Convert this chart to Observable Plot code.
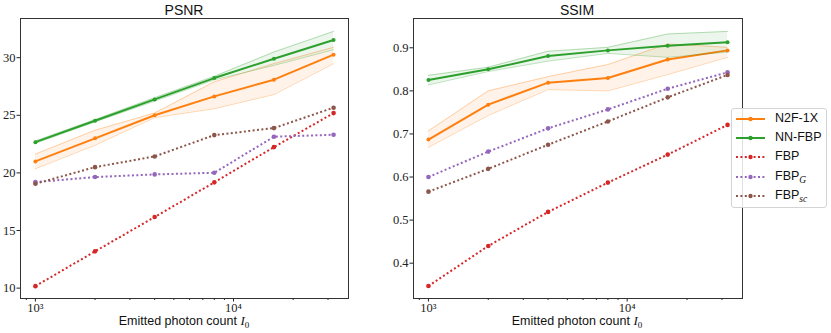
<!DOCTYPE html>
<html><head><meta charset="utf-8">
<script src="https://cdn.jsdelivr.net/npm/d3@7"></script>
<script src="https://cdn.jsdelivr.net/npm/@observablehq/plot@0.6"></script>
<style>
body{margin:0;background:#fff;width:831px;height:333px;position:relative;overflow:hidden;font-family:"Liberation Sans",sans-serif;}
.abs{position:absolute;}
#legend{left:731px;top:108px;width:94px;height:98px;border:1px solid #d4d4d4;border-radius:3px;background:rgba(255,255,255,0.85);}
.entry{position:absolute;left:0;height:14px;width:94px;}
.entry svg{position:absolute;left:4px;top:0;}
.entry .lbl{position:absolute;left:43px;top:-1px;font-size:12.5px;color:#111;white-space:nowrap;line-height:15px;}
.sub{font-family:"Liberation Serif",serif;font-style:italic;font-size:9.5px;position:relative;top:3px;}
</style></head><body>
<div id="left" class="abs" style="left:0;top:0"></div>
<div id="right" class="abs" style="left:380px;top:0"></div>
<svg class="abs" style="left:0;top:0" width="831" height="333" id="overlay"></svg>
<div id="legend" class="abs"></div>
<script>
// ---- data ----
const photons = [1000, 2000, 4000, 8000, 16000, 32000];
const seriesNames = ["N2F-1X", "NN-FBP", "FBP", "FBP_G", "FBP_sc"];

const psnrN2F   = [21.0, 23.0, 25.0, 26.64, 28.09, 30.26];
const psnrN2FLo = [20.36, 22.4, 24.8, 25.57, 26.8, 29.48];
const psnrN2FHi = [21.63, 23.7, 25.2, 27.9, 29.48, 30.9];
const psnrNN    = [22.67, 24.53, 26.38, 28.23, 29.91, 31.53];
const psnrNNLo  = [22.57, 24.43, 26.23, 28.08, 29.33, 30.69];
const psnrNNHi  = [22.77, 24.63, 26.53, 28.38, 30.49, 32.28];
const psnrFBP   = [10.17, 13.19, 16.17, 19.18, 22.24, 25.19];
const psnrFBPG  = [19.2, 19.64, 19.87, 20.01, 23.14, 23.31];
const psnrFBPsc = [19.06, 20.5, 21.43, 23.28, 23.89, 25.66];

const ssimN2F   = [0.687, 0.768, 0.819, 0.83, 0.873, 0.894];
const ssimN2FLo = [0.669, 0.743, 0.803, 0.8, 0.838, 0.878];
const ssimN2FHi = [0.707, 0.8, 0.833, 0.861, 0.909, 0.901];
const ssimNN    = [0.825, 0.85, 0.881, 0.894, 0.905, 0.913];
const ssimNNLo  = [0.814, 0.845, 0.869, 0.887, 0.878, 0.89];
const ssimNNHi  = [0.836, 0.855, 0.892, 0.901, 0.932, 0.938];
const ssimFBP   = [0.347, 0.44, 0.519, 0.587, 0.652, 0.721];
const ssimFBPG  = [0.6, 0.659, 0.713, 0.757, 0.805, 0.843];
const ssimFBPsc = [0.566, 0.619, 0.675, 0.729, 0.785, 0.837];

const psnrTicks = [10, 15, 20, 25, 30];
const ssimTicks = [0.4, 0.5, 0.6, 0.7, 0.8, 0.9];
const xMajor = [1000, 10000];
const xMajorLabels = ["10³", "10⁴"];
const xMinor = [900, 2000, 3000, 4000, 5000, 6000, 7000, 8000, 9000, 20000, 30000];

const C = {orange:"#ff7f0e", green:"#2ca02c", red:"#d62728", purple:"#9467bd", brown:"#8c564b"};
const DOT = "2,2.4";
const SERIF = "'Liberation Serif', 'DejaVu Serif', serif";

function panel(cfg){
  const rows = photons.map((x,i)=>({x,
    n2f:cfg.n2f[i], n2fLo:cfg.n2fLo[i], n2fHi:cfg.n2fHi[i],
    nn:cfg.nn[i], nnLo:cfg.nnLo[i], nnHi:cfg.nnHi[i],
    fbp:cfg.fbp[i], fbpg:cfg.fbpg[i], fbpsc:cfg.fbpsc[i]}));
  const band = (lo,hi,c)=>[
    Plot.areaY(rows,{x:"x",y1:lo,y2:hi,fill:c,fillOpacity:0.09}),
    Plot.lineY(rows,{x:"x",y:lo,stroke:c,strokeOpacity:0.4,strokeWidth:0.8}),
    Plot.lineY(rows,{x:"x",y:hi,stroke:c,strokeOpacity:0.4,strokeWidth:0.8})
  ];
  const solid = (k,c)=>[
    Plot.lineY(rows,{x:"x",y:k,stroke:c,strokeWidth:2}),
    Plot.dot(rows,{x:"x",y:k,fill:c,r:2})
  ];
  const dotted = (k,c)=>[
    Plot.lineY(rows,{x:"x",y:k,stroke:c,strokeWidth:2,strokeDasharray:DOT,strokeLinecap:"butt"}),
    Plot.dot(rows,{x:"x",y:k,fill:c,r:2.3})
  ];
  return Plot.plot({
    width:cfg.width, height:333,
    marginLeft:cfg.ml, marginRight:cfg.mr, marginTop:18, marginBottom:35,
    x:{type:"log", domain:[841, 38060]},
    y:{domain:cfg.ydom},
    style:{fontFamily:SERIF, fontSize:"12.5px", color:"#222", background:"transparent"},
    marks:[
      ...band("n2fLo","n2fHi",C.orange),
      ...solid("n2f",C.orange),
      ...band("nnLo","nnHi",C.green),
      ...solid("nn",C.green),
      ...dotted("fbp",C.red),
      ...dotted("fbpg",C.purple),
      ...dotted("fbpsc",C.brown),
      Plot.axisY({ticks:cfg.yticks, tickSize:3.5, tickPadding:1.5, label:null, tickFormat:cfg.fmt, fontFamily:SERIF, fontSize:12.5}),
      Plot.axisX({ticks:xMajor, tickSize:3.5, tickPadding:1, label:null, tickFormat:d=>xMajorLabels[xMajor.indexOf(d)], fontFamily:SERIF, fontSize:12.5}),
      Plot.axisX({ticks:xMinor, tickSize:2, label:null, tickFormat:()=>""}),
      Plot.frame({stroke:"#333", strokeWidth:1})
    ]
  });
}

document.getElementById("left").append(panel({
  width:360, ml:20, mr:12, ydom:[9.1, 33.4], yticks:psnrTicks, fmt:d=>String(d),
  n2f:psnrN2F, n2fLo:psnrN2FLo, n2fHi:psnrN2FHi, nn:psnrNN, nnLo:psnrNNLo, nnHi:psnrNNHi,
  fbp:psnrFBP, fbpg:psnrFBPG, fbpsc:psnrFBPsc
}));
document.getElementById("right").append(panel({
  width:370, ml:33, mr:8, ydom:[0.318, 0.968], yticks:ssimTicks, fmt:d3.format(".1f"),
  n2f:ssimN2F, n2fLo:ssimN2FLo, n2fHi:ssimN2FHi, nn:ssimNN, nnLo:ssimNNLo, nnHi:ssimNNHi,
  fbp:ssimFBP, fbpg:ssimFBPG, fbpsc:ssimFBPsc
}));

// titles and axis labels
const ov = d3.select("#overlay");
[["PSNR",184],["SSIM",577]].forEach(([t,x])=>{
  ov.append("text").attr("x",x).attr("y",15).attr("text-anchor","middle")
    .attr("font-family","'Liberation Sans', sans-serif").attr("font-size",14).attr("fill","#111").text(t);
});
[184,577].forEach(x=>{
  const t = ov.append("text").attr("x",x).attr("y",325).attr("text-anchor","middle")
    .attr("font-family","'Liberation Sans', sans-serif").attr("font-size",12.5).attr("fill","#111");
  t.append("tspan").text("Emitted photon count ");
  t.append("tspan").attr("font-family",SERIF).attr("font-style","italic").attr("font-size",13).text("I");
  t.append("tspan").attr("font-family",SERIF).attr("font-size",9).attr("dy",2.5).text("0");
});

// legend
const legendStyle = [
  {c:C.orange, dash:null},
  {c:C.green, dash:null},
  {c:C.red, dash:DOT},
  {c:C.purple, dash:DOT},
  {c:C.brown, dash:DOT}
];
const lg = d3.select("#legend");
seriesNames.forEach((name,i)=>{
  const e = lg.append("div").attr("class","entry").style("top",(2.5+i*19.4)+"px");
  const s = e.append("svg").attr("width",30).attr("height",14);
  const ln = s.append("line").attr("x1",0).attr("x2",29).attr("y1",7).attr("y2",7)
    .attr("stroke",legendStyle[i].c).attr("stroke-width",2);
  if (legendStyle[i].dash) ln.attr("stroke-dasharray",legendStyle[i].dash);
  s.append("circle").attr("cx",14.5).attr("cy",7).attr("r",2.2).attr("fill",legendStyle[i].c);
  const sp = e.append("div").attr("class","lbl");
  const parts = name.split("_");
  sp.append("span").text(parts[0]);
  if (parts[1]) sp.append("span").attr("class","sub").text(parts[1]);
});
</script>
</body></html>
